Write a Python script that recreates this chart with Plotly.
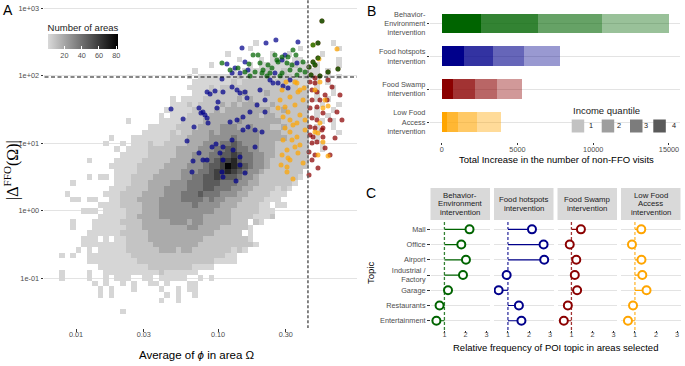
import numpy as np
import plotly.graph_objects as go

W, H = 685, 366
FONT = "Liberation Sans, Arial, sans-serif"
TICK_GREY = "#4d4d4d"
GRID = "#e3e3e3"

GREEN = (0, 100, 0)
BLUE = (0, 0, 139)
RED = (139, 0, 0)
ORANGE = (255, 165, 0)


def rgba(c, a=1.0):
    return f"rgba({c[0]},{c[1]},{c[2]},{a})"


def ppx(x):
    return x / W


def ppy(y):
    return 1 - y / H


# ---------------- Panel A data ----------------
# 2D histogram of areas, bins in log10 space (bin centres)
HEAT_LOG_PHI_FIRST = -2.1002
HEAT_LOG_PHI_STEP = 0.03908
HEAT_LOG_DELTA_FIRST = 2.489
HEAT_LOG_DELTA_STEP = -0.08296
LEVEL_COUNTS = {"1": 2, "2": 9, "3": 18, "4": 28, "5": 38, "6": 48, "7": 58, "8": 68, "9": 80}
HEAT_ROWS = [
    "..........|..........|..........|.....1....|.........1.",
    "..........|..........|..........|....1.....|...1......1",
    "..........|..........|..........|1.......1.|.1.....1...",
    "..........|..........|..........|..1...1.11|1.11......1",
    "..........|..........|.......1..|....1.1111|11211.1...1",
    "..........|..........|....1.....|.1.1111211|2111111.1..",
    "..........|..........|...1.11111|1121212221|2211211.1.1",
    "..........|..........|....111111|1212222212|21211.1.1..",
    "..........|..........|...1111212|2222222222|22212.1..1.",
    "..........|..........|....111222|2223222322|22222.1..1.",
    "..........|..........|1.11112222|2232322222|22222.1.1..",
    "..........|..........|1112122223|2323332232|22222..1..1",
    "..........|.........1|1111222232|3333333322|32222.1..1.",
    "..........|........1.|1112222333|3333332332|22222.1.1..",
    "..........|..1.....11|1122223333|3343333333|22222..1.1.",
    "..........|......1111|1222233334|4433433322|32222.1..1.",
    "..........|.....11111|2122333434|4444443333|22222.1...1",
    ".........1|...1111111|2223333444|4544443333|32222.1....",
    "........1.|.1.1112112|2223334445|5654443332|22222..1...",
    "..........|1.11112222|2333344455|6655443332|22222..1...",
    "..........|.111112222|2333444556|6765544332|22222......",
    ".....1....|1111122222|3333445567|7865544322|22222......",
    ".........1|1111222223|3334445667|9876544322|22222......",
    "..........|1111222233|3344455677|8765443222|2222.......",
    ".....1.11.|1112222333|3344556676|6654432222|2221.......",
    "..1.......|1112223333|4445556665|5544332222|221........",
    ".........1|1122223334|4445556655|5443322221|21.........",
    ".1......11|1222233334|4455565554|4433222211|1..........",
    "..11.11..1|1222333344|4455554544|3332222111|...........",
    ".......111|1222233344|4444544443|33222211.1|1..........",
    "....111.11|1122233344|4444444433|322222111.|...........",
    ".......111|1122333344|4444443333|322221112.|...........",
    "..1...1111|1222233333|4443443333|3222.21...|...........",
    "..1...1111|1122233333|3334433332|22221.....|...........",
    ".....11111|1222223333|3333333322|222.1.....|...........",
    "....111.1.|1122223333|3333332222|22221.....|...........",
    "....111111|1122222333|3333322222|222221....|...........",
    "...1.1.111|1122222233|3233222222|2121......|...........",
    "1.1..11111|1112222222|2222222222|11........|...........",
    ".....11111|1111222222|2222222211|11........|...........",
    ".......111|1111112222|22221111..|..........|...........",
    "1....1..11|1111111121|11111.....|..........|...........",
    "1....1..1.|111..11.11|111..1.1..|..........|...........",
    "......1.1.|.1.1..11.1|...11.....|..........|...........",
    ".......1.1|...1....1.|.1.11.....|..........|...........",
    ".......1.1|.........1|.1..1.....|..........|...........",
    "..........|........1.|.1........|..........|...........",
    "..........|..........|..........|..........|...........",
    "..........|.1........|..........|..........|...........",
]

# thresholds (dashed lines)
PHI_THRESHOLD = 0.43
DELTA_THRESHOLD = 96

# selected areas: (log10 phi, log10 |Delta|)
hotspot_pts = [(-1.331, 1.508), (-1.246, 1.360), (-1.169, 1.241), (-1.134, 1.522), (-1.120, 1.448),
               (-1.077, 1.759), (-1.056, 1.730), (-1.021, 1.774), (-1.007, 1.522), (-1.000, 1.611),
               (-0.965, 1.759), (-0.972, 1.952), (-1.218, 1.034), (-1.134, 0.856), (-1.176, 0.738),
               (-1.077, 0.752), (-1.042, 0.945), (-1.014, 0.989), (-0.986, 0.856), (-1.183, 0.575),
               (-0.972, 0.575), (-1.070, 1.300), (-1.092, 1.419), (-0.901, 1.834), (-0.866, 1.789),
               (-0.845, 1.745), (-0.810, 1.759), (-0.796, 1.671), (-0.704, 1.789), (-0.669, 1.641),
               (-0.634, 1.937), (-0.613, 1.893), (-0.577, 1.893), (-0.542, 1.848), (-0.725, 1.567),
               (-0.775, 1.463), (-0.669, 1.463), (-0.824, 1.389), (-0.866, 1.345), (-0.915, 1.315),
               (-0.824, 1.197), (-0.739, 1.197), (-0.690, 1.167), (-0.901, 1.049), (-0.965, 0.945),
               (-1.106, 1.463), (-1.077, 1.375), (-0.894, 0.901), (-0.739, 0.945), (-0.965, 0.752),
               (-0.845, 0.797), (-0.845, 0.679), (-0.810, 0.560), (-0.965, 0.501), (-1.106, 0.752),
               (-0.873, 0.441), (-0.507, 1.819), (-0.493, 1.937), (-0.831, 2.411), (-0.662, 2.486),
               (-0.592, 2.530), (-0.437, 2.500), (-0.528, 2.308), (-0.937, 2.174), (-0.880, 2.115),
               (-0.810, 2.204), (-0.549, 2.233), (-0.444, 2.189), (-0.901, 2.041), (-0.845, 2.041),
               (-0.599, 2.041), (-0.789, 2.086), (-0.789, 1.241)]
swamp_pts = [(-0.352, 1.908), (-0.317, 1.893), (-0.338, 1.789), (-0.303, 1.760), (-0.246, 1.716),
             (-0.197, 1.834), (-0.232, 1.641), (-0.282, 1.641), (-0.338, 1.641), (-0.352, 1.523),
             (-0.261, 1.449), (-0.338, 1.375), (-0.303, 1.345), (-0.352, 1.241), (-0.317, 1.227),
             (-0.268, 1.197), (-0.331, 1.093), (-0.303, 1.019), (-0.176, 1.079), (-0.303, 1.538),
             (-0.261, 1.227), (-0.352, 1.123), (-0.261, 1.093), (-0.338, 1.004), (-0.359, 0.871),
             (-0.317, 0.827), (-0.338, 0.753), (-0.211, 0.827), (-0.296, 0.634), (-0.359, 0.530),
             (-0.141, 1.716), (-0.127, 1.345), (-0.317, 1.967), (-0.225, 1.937), (-0.162, 1.463),
             (-0.246, 0.930), (-0.211, 1.345),
             (-0.268, 2.812), (-0.296, 2.486), (-0.317, 2.160), (-0.296, 2.264), (-0.225, 2.056),
             (-0.155, 2.101), (-0.359, 2.130), (-0.331, 2.204), (-0.282, 1.997), (-0.345, 2.012)]
lowaccess_pts = [(-0.563, 1.641), (-0.528, 1.538), (-0.493, 1.686), (-0.444, 1.893), (-0.423, 1.789),
                 (-0.401, 1.641), (-0.507, 1.463), (-0.458, 1.567), (-0.542, 1.389), (-0.493, 1.345),
                 (-0.472, 1.271), (-0.423, 1.419), (-0.528, 1.227), (-0.493, 1.167), (-0.479, 1.049),
                 (-0.444, 1.093), (-0.542, 1.049), (-0.514, 0.901), (-0.507, 0.782), (-0.437, 0.856),
                 (-0.549, 0.827), (-0.514, 0.575), (-0.549, 1.789), (-0.458, 1.908), (-0.437, 1.760),
                 (-0.444, 1.301), (-0.458, 0.945), (-0.493, 0.753), (-0.514, 0.649), (-0.401, 0.708),
                 (-0.472, 0.471), (-0.394, 1.819), (-0.577, 1.523), (-0.387, 1.197), (-0.423, 0.975),
                 (-0.556, 0.679), (-0.521, 1.908), (-0.387, 1.345),
                 (-0.317, 1.789), (-0.261, 1.523), (-0.296, 1.152), (-0.261, 1.019), (-0.282, 1.908),
                 (-0.246, 1.641), (-0.225, 1.553), (-0.282, 1.301), (-0.317, 1.167), (-0.296, 0.827),
                 (-0.225, 0.812),
                 (-0.331, 2.456), (-0.162, 2.397), (-0.289, 2.249)]
behavior_pts = [(-0.972, 2.189), (-0.782, 2.174), (-0.753, 2.308), (-0.718, 2.308), (-0.704, 2.189),
                (-0.648, 2.160), (-0.620, 2.115), (-0.599, 2.308), (-0.577, 2.204), (-0.514, 2.189),
                (-0.479, 2.160), (-0.451, 2.308), (-0.423, 2.086), (-0.387, 2.056), (-0.810, 2.056),
                (-0.739, 2.056), (-0.690, 2.041), (-0.634, 2.041), (-0.549, 2.041), (-0.859, 2.115),
                (-0.683, 2.086), (-0.585, 2.233), (-0.549, 2.279), (-0.507, 2.279), (-0.472, 2.382),
                (-0.401, 2.204), (-0.493, 2.086), (-0.655, 1.997), (-0.775, 1.997), (-0.563, 1.997),
                (-0.444, 2.012), (-0.915, 2.086),
                (-0.268, 2.812), (-0.296, 2.486), (-0.317, 2.160), (-0.296, 2.264), (-0.225, 2.056),
                (-0.155, 2.101), (-0.359, 2.130), (-0.331, 2.204), (-0.282, 1.997), (-0.345, 2.012),
                (-0.331, 2.456)]

A_X_TICKS = [0.01, 0.03, 0.10, 0.30]
A_X_TICKTEXT = ["0.01", "0.03", "0.10", "0.30"]
A_Y_TICKS = [0.1, 1, 10, 100, 1000]
A_Y_TICKTEXT = ["1e-01", "1e+00", "1e+01", "1e+02", "1e+03"]

# ---------------- Panel B data ----------------
interventions = ["Behavior-<br>Environment<br>intervention", "Food hotspots<br>intervention",
                 "Food Swamp<br>intervention", "Low Food<br>Access<br>intervention"]
intervention_colors = [GREEN, BLUE, RED, ORANGE]
visits_q4 = [2574, 1472, 766, 330]
visits_q3 = [3802, 1894, 1432, 726]
visits_q2 = [4185, 2066, 1452, 1274]
visits_q1 = [4462, 2377, 1670, 1584]
quantile_labels = ["1", "2", "3", "4"]
quantile_alpha = {"1": 0.4, "2": 0.6, "3": 0.8, "4": 1.0}
B_X_TICKS = [0, 5000, 10000, 15000]
B_X_TICKTEXT = ["0", "5000", "10000", "15000"]

# ---------------- Panel C data ----------------
topics = ["Mall", "Office", "Airport", "Industrial /<br>Factory", "Garage", "Restaurants", "Entertainment"]
facet_titles = [["Behavior-", "Environment", "intervention"], ["Food hotspots", "intervention"],
                ["Food Swamp", "intervention"], ["Low Food", "Access", "intervention"]]
rel_behavior = [2.19, 1.80, 2.02, 1.88, 1.17, 0.77, 0.62]
rel_hotspots = [2.14, 2.69, 2.72, 0.94, 0.56, 1.52, 1.64]
rel_swamp = [1.45, 0.92, 1.23, 1.16, 1.27, 0.83, 0.64]
rel_lowaccess = [1.30, 0.86, 1.31, 1.35, 1.55, 0.91, 0.67]
REFERENCE_LEVEL = 1
C_X_TICKS = [1, 2, 3]

# ================= build figure =================
fig = go.Figure()

rows = [r.replace("|", "") for r in HEAT_ROWS]
z = [[LEVEL_COUNTS.get(ch) for ch in row] for row in rows]
ncol = len(rows[0])
nrow = len(rows)
heat_phi = 10 ** (HEAT_LOG_PHI_FIRST + HEAT_LOG_PHI_STEP * np.arange(ncol))
heat_delta = 10 ** (HEAT_LOG_DELTA_FIRST + HEAT_LOG_DELTA_STEP * np.arange(nrow))

fig.add_trace(go.Heatmap(
    x=heat_phi, y=heat_delta, z=z, zmin=1, zmax=82,
    colorscale=[[0, "#d9d9d9"], [1, "#000000"]],
    xaxis="x", yaxis="y", hoverinfo="skip", showscale=True,
    colorbar=dict(orientation="h", x=ppx(48), xanchor="left", y=ppy(22.5), yanchor="top",
                  lenmode="pixels", len=70, thicknessmode="pixels", thickness=15,
                  outlinewidth=0, xpad=0, ypad=0,
                  title=dict(text="Number of areas", side="top",
                             font=dict(size=9.5, color="#1a1a1a", family=FONT)),
                  tickvals=[20, 40, 60, 80], ticks="inside", ticklen=3, tickcolor="white",
                  tickfont=dict(size=7.3, color=TICK_GREY, family=FONT)),
))


def add_points(pts, col):
    lx = np.array([p[0] for p in pts])
    ly = np.array([p[1] for p in pts])
    fig.add_trace(go.Scatter(x=10 ** lx, y=10 ** ly, mode="markers", xaxis="x", yaxis="y",
                             marker=dict(size=5, color=rgba(col), opacity=0.72, line=dict(width=0)),
                             showlegend=False, hoverinfo="skip"))


add_points(hotspot_pts, BLUE)
add_points(swamp_pts, RED)
add_points(lowaccess_pts, ORANGE)
add_points(behavior_pts, GREEN)

# threshold lines
fig.add_trace(go.Scatter(x=[PHI_THRESHOLD, PHI_THRESHOLD], y=[1e-3, 1e4], mode="lines",
                         line=dict(color="#666666", width=1.6, dash="3px,2px"),
                         xaxis="x", yaxis="y", showlegend=False, hoverinfo="skip"))
fig.add_trace(go.Scatter(x=[1e-3, 10], y=[DELTA_THRESHOLD, DELTA_THRESHOLD], mode="lines",
                         line=dict(color="#111111", width=1.1, dash="4px,2.5px"),
                         xaxis="x", yaxis="y", showlegend=False, hoverinfo="skip"))

# ---- Panel B stacked bars
quantile_series = [("4", visits_q4), ("3", visits_q3), ("2", visits_q2), ("1", visits_q1)]
for q, vals in quantile_series:
    fig.add_trace(go.Bar(x=vals, y=interventions, orientation="h", width=0.6,
                         marker=dict(color=[rgba(c, quantile_alpha[q]) for c in intervention_colors],
                                     line=dict(width=0)),
                         xaxis="x2", yaxis="y2", showlegend=False, hoverinfo="skip"))

# ---- Panel C lollipops
facet_values = [rel_behavior, rel_hotspots, rel_swamp, rel_lowaccess]
facet_starts = [430.5, 494, 557.5, 621]
FACET_W = 59.5
shapes = []
annotations = []
for i, (vals, col) in enumerate(zip(facet_values, intervention_colors)):
    xa, ya = f"x{3 + i}", f"y{3 + i}"
    sx, sy = [], []
    for t, v in zip(topics, vals):
        sx += [REFERENCE_LEVEL, v, None]
        sy += [t, t, None]
    fig.add_trace(go.Scatter(x=sx, y=sy, mode="lines", line=dict(color=rgba(col), width=1.2),
                             xaxis=xa, yaxis=ya, showlegend=False, hoverinfo="skip"))
    fig.add_trace(go.Scatter(x=vals, y=topics, mode="markers",
                             marker=dict(size=8, color="white", line=dict(color=rgba(col), width=2)),
                             xaxis=xa, yaxis=ya, showlegend=False, hoverinfo="skip"))
    shapes.append(dict(type="line", xref=xa, x0=REFERENCE_LEVEL, x1=REFERENCE_LEVEL,
                       yref=f"{ya} domain", y0=0, y1=1, layer="below",
                       line=dict(color=rgba(col, 0.8), width=1.3, dash="3px,2px")))
    # strip
    shapes.append(dict(type="rect", xref=f"{xa} domain", x0=0, x1=1, yref="paper",
                       y0=ppy(220), y1=ppy(188), fillcolor="#d9d9d9", line=dict(width=0), layer="below"))
    lines = facet_titles[i]
    n = len(lines)
    for k, txt in enumerate(lines):
        yc = 204 + (k - (n - 1) / 2) * 8.2
        annotations.append(dict(text=txt, xref=f"{xa} domain", x=0.5, yref="paper", y=ppy(yc),
                                showarrow=False, xanchor="center", yanchor="middle",
                                font=dict(size=7.8, color="#1a1a1a", family=FONT)))

# ---- Panel B legend (Income quantile)
legend_sq_x = [571.7, 601.7, 630.0, 653.3]
legend_lbl_x = [591, 619, 646, 674]
legend_greys = {"1": "#c2c2c2", "2": "#9e9e9e", "3": "#7c7c7c", "4": "#5a5a5a"}
for q, sx0, lx0 in zip(quantile_labels, legend_sq_x, legend_lbl_x):
    shapes.append(dict(type="rect", xref="paper", yref="paper", x0=ppx(sx0), x1=ppx(sx0 + 12.5),
                       y0=ppy(132.5), y1=ppy(119.5), fillcolor=legend_greys[q], line=dict(width=0)))
    annotations.append(dict(text=q, xref="paper", yref="paper", x=ppx(lx0), y=ppy(126),
                            showarrow=False, xanchor="center", yanchor="middle",
                            font=dict(size=7.3, color="#1a1a1a", family=FONT)))
annotations.append(dict(text="Income quantile", xref="paper", yref="paper", x=ppx(570.5), y=ppy(110),
                        showarrow=False, xanchor="left", yanchor="middle",
                        font=dict(size=9.5, color="#1a1a1a", family=FONT)))

# ---- titles & panel letters
def ann(text, x, y, size, angle=0, family=FONT, color="#000000", xanchor="center"):
    annotations.append(dict(text=text, xref="paper", yref="paper", x=ppx(x), y=ppy(y), showarrow=False,
                            xanchor=xanchor, yanchor="middle", textangle=angle,
                            font=dict(size=size, color=color, family=family)))


ann("A", 8, 10, 14)
ann("B", 371, 11, 14)
ann("C", 371, 193, 14)
ann("|Δ<sup>FFO</sup>(Ω)|", 11, 170, 16, angle=-90, family="Liberation Serif, DejaVu Serif, serif")
ann("Average of <i>ϕ</i> in area Ω", 197, 355, 11.5)
ann("Total Increase in the number of non-FFO visits", 556, 159.5, 9.5)
ann("Relative frequency of POI topic in areas selected", 555, 347.5, 9.5)
ann("Topic", 370, 273, 9.5, angle=-90)

tickfont = dict(size=7.3, color=TICK_GREY, family=FONT)
common_ticks = dict(ticks="outside", ticklen=2.5, tickwidth=0.8, tickcolor="#333333",
                    tickfont=tickfont, zeroline=False, showline=False)

layout = dict(
    template="none",
    width=W, height=H, margin=dict(l=0, r=0, t=0, b=0),
    paper_bgcolor="white", plot_bgcolor="rgba(0,0,0,0)",
    font=dict(family=FONT, color="#1a1a1a"), showlegend=False, barmode="stack",
    shapes=shapes, annotations=annotations,
    xaxis=dict(domain=[ppx(44), ppx(357)], type="log", range=[-2.2254, -0.0211],
               tickvals=A_X_TICKS, ticktext=A_X_TICKTEXT, showgrid=False, anchor="y",
               ticklabelstandoff=-3, **common_ticks),
    yaxis=dict(domain=[ppy(328), ppy(0)], type="log", range=[-1.736, 3.123],
               tickvals=A_Y_TICKS, ticktext=A_Y_TICKTEXT, showgrid=True, gridcolor=GRID, gridwidth=1,
               anchor="x", **common_ticks),
    xaxis2=dict(domain=[ppx(430.3), ppx(680)], range=[-752, 15728], tickvals=B_X_TICKS,
                ticktext=B_X_TICKTEXT, showgrid=False, anchor="y2", ticklabelstandoff=-2,
                **common_ticks),
    yaxis2=dict(domain=[ppy(141.8), ppy(3.7)], type="category", categoryorder="array",
                categoryarray=interventions, range=[3.6, -0.6], showgrid=True, gridcolor=GRID,
                anchor="x2", **common_ticks),
)
for i, start in enumerate(facet_starts):
    layout[f"xaxis{3 + i}"] = dict(domain=[ppx(start), ppx(start + FACET_W)], range=[0.34, 3.16],
                                   tickvals=C_X_TICKS, showgrid=False, anchor=f"y{3 + i}",
                                   ticklabelstandoff=-5, **common_ticks)
    yax = dict(domain=[ppy(329.9), ppy(220.2)], type="category", categoryorder="array",
               categoryarray=topics, range=[6.6, -0.6], showgrid=True, gridcolor=GRID,
               anchor=f"x{3 + i}", **common_ticks)
    if i > 0:
        yax["showticklabels"] = False
        yax["ticks"] = ""
    layout[f"yaxis{3 + i}"] = yax

fig.update_layout(**layout)
fig.write_html("out.html", config={"displayModeBar": False},
               post_script="document.body.style.margin='0';document.body.style.overflow='hidden';")
